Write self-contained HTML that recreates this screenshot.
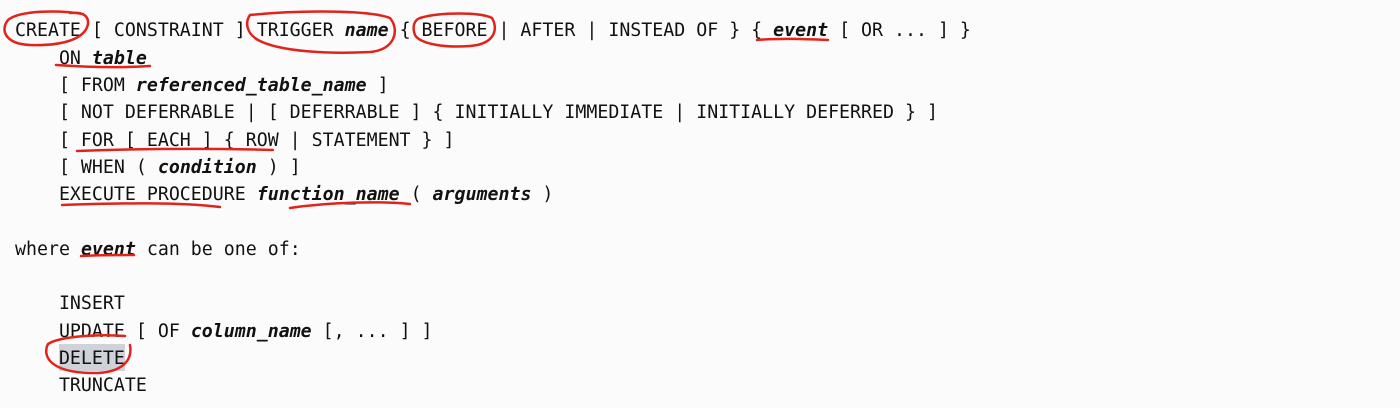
<!DOCTYPE html>
<html><head><meta charset="utf-8"><style>
html,body{margin:0;padding:0;}
body{width:1400px;height:408px;background:#fbfbfb;position:relative;overflow:hidden;font-family:"DejaVu Sans Mono","Liberation Mono",monospace;font-size:18.25px;color:#111;}
.l{position:absolute;left:15px;height:27.3px;line-height:27.3px;white-space:pre;}
b{font-style:oblique;font-weight:bold;}
svg{position:absolute;left:0;top:0;}
.hl{position:absolute;left:59px;top:344px;width:66px;height:27px;background:#cfd2d8;}
</style></head><body>
<div class="hl"></div>
<div class="l" style="top:17.4px">CREATE [ CONSTRAINT ] TRIGGER <b>name</b> { BEFORE | AFTER | INSTEAD OF } { <b>event</b> [ OR ... ] }</div>
<div class="l" style="top:44.7px">    ON <b>table</b></div>
<div class="l" style="top:72px">    [ FROM <b>referenced_table_name</b> ]</div>
<div class="l" style="top:99.3px">    [ NOT DEFERRABLE | [ DEFERRABLE ] { INITIALLY IMMEDIATE | INITIALLY DEFERRED } ]</div>
<div class="l" style="top:126.6px">    [ FOR [ EACH ] { ROW | STATEMENT } ]</div>
<div class="l" style="top:153.9px">    [ WHEN ( <b>condition</b> ) ]</div>
<div class="l" style="top:181.2px">    EXECUTE PROCEDURE <b>function_name</b> ( <b>arguments</b> )</div>
<div class="l" style="top:235.8px">where <b>event</b> can be one of:</div>
<div class="l" style="top:290.4px">    INSERT</div>
<div class="l" style="top:317.7px">    UPDATE [ OF <b>column_name</b> [, ... ] ]</div>
<div class="l" style="top:345px">    DELETE</div>
<div class="l" style="top:372.3px">    TRUNCATE</div>
<svg width="1400" height="408" fill="none" stroke="#e0241b" stroke-width="2.5" stroke-linecap="round">
<path d="M83,14 C60,10 20,10 8,20 C0,30 5,44 30,45 C60,46 85,40 88,24 C89,14 80,12 70,13"/>
<path d="M250,15 C300,10 370,10 390,18 C400,30 395,50 370,52 C330,54 280,52 258,40 C246,33 245,22 250,15"/>
<path d="M420,18 C440,12 480,12 492,18 C498,28 496,44 470,46 C445,48 420,44 415,35 C412,27 414,20 420,18"/>
<path d="M757,40 C780,38 805,39 828,40"/>
<path d="M56,65 C85,67 120,68 150,66"/>
<path d="M77,151 C130,149 200,148 273,150"/>
<path d="M62,205 C120,203 180,202 220,207 M290,208 C330,202 380,201 410,204"/>
<path d="M81,256 C100,255 120,255 134,255"/>
<path d="M125,336 C100,334 60,336 48,344 C42,356 50,372 90,373 C120,374 133,362 130,345"/>
</svg>
</body></html>
